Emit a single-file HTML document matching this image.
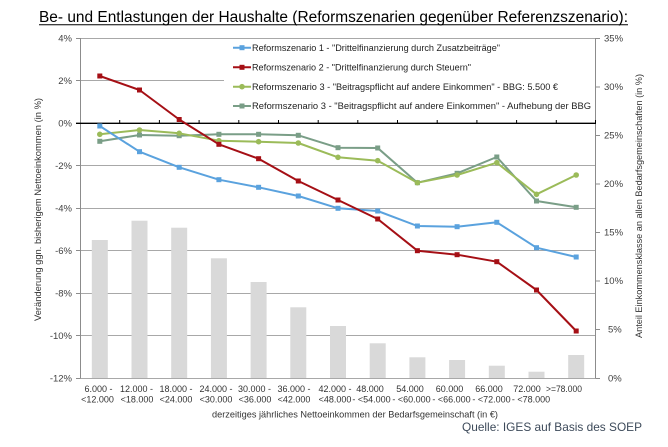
<!DOCTYPE html>
<html><head><meta charset="utf-8"><style>
html,body{margin:0;padding:0;background:#fff;}
svg{display:block;}
text{font-family:"Liberation Sans",Arial,sans-serif;}
</style></head><body>
<svg width="668" height="447" viewBox="0 0 668 447" xmlns="http://www.w3.org/2000/svg">
<rect width="668" height="447" fill="#fff"/>
<!-- Title -->
<text x="39" y="22" font-size="15.3" fill="#000" textLength="589" lengthAdjust="spacingAndGlyphs">Be- und Entlastungen der Haushalte (Reformszenarien gegenüber Referenzszenario):</text>
<line x1="39" y1="24.8" x2="628" y2="24.8" stroke="#000" stroke-width="1"/>

<!-- gridlines -->
<g stroke="#a8a8a8" stroke-width="1">
<line x1="80" y1="38.5" x2="596" y2="38.5"/>
<line x1="80" y1="80.5" x2="596" y2="80.5"/>
<line x1="80" y1="165.5" x2="596" y2="165.5"/>
<line x1="80" y1="208.5" x2="596" y2="208.5"/>
<line x1="80" y1="250.5" x2="596" y2="250.5"/>
<line x1="80" y1="293.5" x2="596" y2="293.5"/>
<line x1="80" y1="335.5" x2="596" y2="335.5"/>
<line x1="80" y1="378.5" x2="596" y2="378.5"/>
</g>
<!-- bars -->
<g fill="#d9d9d9">
<rect x="91.8" y="240" width="16" height="138"/>
<rect x="131.5" y="220.7" width="16" height="157.3"/>
<rect x="171.2" y="227.7" width="16" height="150.3"/>
<rect x="210.9" y="258.3" width="16" height="119.7"/>
<rect x="250.6" y="282" width="16" height="96"/>
<rect x="290.3" y="307.3" width="16" height="70.7"/>
<rect x="330" y="326" width="16" height="52"/>
<rect x="369.7" y="343.3" width="16" height="34.7"/>
<rect x="409.4" y="357.3" width="16" height="20.7"/>
<rect x="449.1" y="360" width="16" height="18"/>
<rect x="488.8" y="365.7" width="16" height="12.3"/>
<rect x="528.5" y="371.7" width="16" height="6.3"/>
<rect x="568.2" y="355" width="16" height="23"/>
</g>
<!-- axes -->
<g stroke="#8c8c8c" stroke-width="1">
<line x1="80.5" y1="38" x2="80.5" y2="378.5"/>
<line x1="595.5" y1="38" x2="595.5" y2="378.5"/>
<line x1="76" y1="38.5" x2="80" y2="38.5"/>
<line x1="76" y1="80.5" x2="80" y2="80.5"/>
<line x1="76" y1="165.5" x2="80" y2="165.5"/>
<line x1="76" y1="208.5" x2="80" y2="208.5"/>
<line x1="76" y1="250.5" x2="80" y2="250.5"/>
<line x1="76" y1="293.5" x2="80" y2="293.5"/>
<line x1="76" y1="335.5" x2="80" y2="335.5"/>
<line x1="76" y1="378.5" x2="80" y2="378.5"/>
<line x1="596" y1="38.5" x2="600" y2="38.5"/>
<line x1="596" y1="87" x2="600" y2="87"/>
<line x1="596" y1="135.5" x2="600" y2="135.5"/>
<line x1="596" y1="184" x2="600" y2="184"/>
<line x1="596" y1="232.5" x2="600" y2="232.5"/>
<line x1="596" y1="281" x2="600" y2="281"/>
<line x1="596" y1="329.5" x2="600" y2="329.5"/>
<line x1="596" y1="378.5" x2="600" y2="378.5"/>
</g>
<!-- 0% axis -->
<line x1="76" y1="123.3" x2="596" y2="123.3" stroke="#000" stroke-width="1.4"/>
<g stroke="#000" stroke-width="1">
<line x1="119.7" y1="120" x2="119.7" y2="123"/>
<line x1="159.4" y1="120" x2="159.4" y2="123"/>
<line x1="199.1" y1="120" x2="199.1" y2="123"/>
<line x1="238.8" y1="120" x2="238.8" y2="123"/>
<line x1="278.5" y1="120" x2="278.5" y2="123"/>
<line x1="318.2" y1="120" x2="318.2" y2="123"/>
<line x1="357.8" y1="120" x2="357.8" y2="123"/>
<line x1="397.5" y1="120" x2="397.5" y2="123"/>
<line x1="437.2" y1="120" x2="437.2" y2="123"/>
<line x1="476.9" y1="120" x2="476.9" y2="123"/>
<line x1="516.6" y1="120" x2="516.6" y2="123"/>
<line x1="556.3" y1="120" x2="556.3" y2="123"/>
<line x1="595.5" y1="120" x2="595.5" y2="123"/>
</g>

<!-- Legend box (covers gridline) -->
<rect x="224" y="41" width="371" height="77" fill="#fff"/>

<!-- series -->
<g fill="none" stroke-width="2" stroke-linejoin="round">
<polyline stroke="#7a9e87" points="99.8,141.3 139.5,135 179.2,135.7 218.9,134.3 258.6,134.3 298.3,135.3 338,147.7 377.7,148 417.4,182.7 457.1,173.3 496.8,157 536.5,201 576.2,207.3"/>
<polyline stroke="#9bbb59" points="99.8,134.3 139.5,130 179.2,133.3 218.9,140.7 258.6,141.7 298.3,143 338,157.3 377.7,160.7 417.4,182.7 457.1,175 496.8,162.7 536.5,194.3 576.2,175"/>
<polyline stroke="#5aa2de" points="99.8,126 139.5,151.7 179.2,167.3 218.9,179.7 258.6,187.3 298.3,196 338,208.3 377.7,211 417.4,226 457.1,226.7 496.8,222.3 536.5,247.7 576.2,257"/>
<polyline stroke="#a50f15" points="99.8,76 139.5,90 179.2,119.5 218.9,144.3 258.6,158.7 298.3,181 338,200 377.7,219 417.4,250.7 457.1,254.7 496.8,261.7 536.5,290 576.2,331"/>
</g>
<!-- markers -->
<g fill="#7a9e87">
<rect x="97.3" y="138.8" width="5" height="5"/><rect x="137" y="132.5" width="5" height="5"/><rect x="176.7" y="133.2" width="5" height="5"/><rect x="216.4" y="131.8" width="5" height="5"/><rect x="256.1" y="131.8" width="5" height="5"/><rect x="295.8" y="132.8" width="5" height="5"/><rect x="335.5" y="145.2" width="5" height="5"/><rect x="375.2" y="145.5" width="5" height="5"/><rect x="414.9" y="180.2" width="5" height="5"/><rect x="454.6" y="170.8" width="5" height="5"/><rect x="494.3" y="154.5" width="5" height="5"/><rect x="534" y="198.5" width="5" height="5"/><rect x="573.7" y="204.8" width="5" height="5"/>
</g>
<g fill="#9bbb59">
<circle cx="99.8" cy="134.3" r="2.8"/><circle cx="139.5" cy="130" r="2.8"/><circle cx="179.2" cy="133.3" r="2.8"/><circle cx="218.9" cy="140.7" r="2.8"/><circle cx="258.6" cy="141.7" r="2.8"/><circle cx="298.3" cy="143" r="2.8"/><circle cx="338" cy="157.3" r="2.8"/><circle cx="377.7" cy="160.7" r="2.8"/><circle cx="417.4" cy="182.7" r="2.8"/><circle cx="457.1" cy="175" r="2.8"/><circle cx="496.8" cy="162.7" r="2.8"/><circle cx="536.5" cy="194.3" r="2.8"/><circle cx="576.2" cy="175" r="2.8"/>
</g>
<g fill="#5aa2de">
<rect x="97.3" y="123.5" width="5" height="5"/><rect x="137" y="149.2" width="5" height="5"/><rect x="176.7" y="164.8" width="5" height="5"/><rect x="216.4" y="177.2" width="5" height="5"/><rect x="256.1" y="184.8" width="5" height="5"/><rect x="295.8" y="193.5" width="5" height="5"/><rect x="335.5" y="205.8" width="5" height="5"/><rect x="375.2" y="208.5" width="5" height="5"/><rect x="414.9" y="223.5" width="5" height="5"/><rect x="454.6" y="224.2" width="5" height="5"/><rect x="494.3" y="219.8" width="5" height="5"/><rect x="534" y="245.2" width="5" height="5"/><rect x="573.7" y="254.5" width="5" height="5"/>
</g>
<g fill="#a50f15">
<rect x="97.3" y="73.5" width="5" height="5"/><rect x="137" y="87.5" width="5" height="5"/><rect x="176.7" y="117" width="5" height="5"/><rect x="216.4" y="141.8" width="5" height="5"/><rect x="256.1" y="156.2" width="5" height="5"/><rect x="295.8" y="178.5" width="5" height="5"/><rect x="335.5" y="197.5" width="5" height="5"/><rect x="375.2" y="216.5" width="5" height="5"/><rect x="414.9" y="248.2" width="5" height="5"/><rect x="454.6" y="252.2" width="5" height="5"/><rect x="494.3" y="259.2" width="5" height="5"/><rect x="534" y="287.5" width="5" height="5"/><rect x="573.7" y="328.5" width="5" height="5"/>
</g>

<!-- Legend -->
<g stroke-width="2">
<line x1="233" y1="47.7" x2="251" y2="47.7" stroke="#5aa2de"/>
<line x1="233" y1="67.3" x2="251" y2="67.3" stroke="#a50f15"/>
<line x1="233" y1="86.7" x2="251" y2="86.7" stroke="#9bbb59"/>
<line x1="233" y1="106" x2="251" y2="106" stroke="#7a9e87"/>
</g>
<rect x="239.5" y="45.2" width="5" height="5" fill="#5aa2de"/>
<rect x="239.5" y="64.8" width="5" height="5" fill="#a50f15"/>
<circle cx="242" cy="86.7" r="2.8" fill="#9bbb59"/>
<rect x="239.5" y="103.5" width="5" height="5" fill="#7a9e87"/>
<g font-size="9" fill="#222">
<text x="252" y="50.8" textLength="248" lengthAdjust="spacingAndGlyphs">Reformszenario 1 - "Drittelfinanzierung durch Zusatzbeiträge"</text>
<text x="252" y="70.4" textLength="219" lengthAdjust="spacingAndGlyphs">Reformszenario 2 - "Drittelfinanzierung durch Steuern"</text>
<text x="252" y="89.8" textLength="306" lengthAdjust="spacingAndGlyphs">Reformszenario 3 - "Beitragspflicht auf andere Einkommen" - BBG: 5.500 €</text>
<text x="252" y="109.1" textLength="339" lengthAdjust="spacingAndGlyphs">Reformszenario 3 - "Beitragspflicht auf andere Einkommen" - Aufhebung der BBG</text>
</g>

<!-- left axis labels -->
<g font-size="9.5" fill="#404040" text-anchor="end">
<text x="72" y="41.5">4%</text>
<text x="72" y="84">2%</text>
<text x="72" y="126.5">0%</text>
<text x="72" y="169">-2%</text>
<text x="72" y="211.5">-4%</text>
<text x="72" y="254">-6%</text>
<text x="72" y="296.5">-8%</text>
<text x="72" y="339">-10%</text>
<text x="72" y="381.5">-12%</text>
</g>
<!-- right axis labels -->
<g font-size="9.5" fill="#404040">
<text x="604" y="41.5">35%</text>
<text x="604" y="90">30%</text>
<text x="604" y="138.5">25%</text>
<text x="604" y="187">20%</text>
<text x="604" y="235.5">15%</text>
<text x="604" y="284">10%</text>
<text x="608" y="332.5">5%</text>
<text x="608" y="381.5">0%</text>
</g>

<!-- axis titles -->
<text transform="translate(41,209.5) rotate(-90)" text-anchor="middle" font-size="9.5" fill="#333" textLength="223" lengthAdjust="spacingAndGlyphs">Veränderung ggn. bisherigem Nettoeinkommen (in %)</text>
<text transform="translate(642,206) rotate(-90)" text-anchor="middle" font-size="9.5" fill="#333" textLength="264" lengthAdjust="spacingAndGlyphs">Anteil Einkommensklasse an allen Bedarfsgemeinschaften (in %)</text>

<!-- category labels -->
<g font-size="9" fill="#333" text-anchor="middle">
<text x="98.5" y="392">6.000 -</text><text x="97.5" y="402.5">&lt;12.000</text>
<text x="136.5" y="392">12.000 -</text><text x="137" y="402.5">&lt;18.000</text>
<text x="176" y="392">18.000 -</text><text x="176" y="402.5">&lt;24.000</text>
<text x="216" y="392">24.000 -</text><text x="216" y="402.5">&lt;30.000</text>
<text x="254.5" y="392">30.000 -</text><text x="255" y="402.5">&lt;36.000</text>
<text x="294" y="392">36.000 -</text><text x="294" y="402.5">&lt;42.000</text>
<text x="335" y="392">42.000 -</text><text x="335" y="402.5">&lt;48.000</text>
<text x="370" y="392">48.000</text><text x="371.5" y="402.5">- &lt;54.000</text>
<text x="410" y="392">54.000</text><text x="411.5" y="402.5">- &lt;60.000</text>
<text x="449.5" y="392">60.000</text><text x="451.5" y="402.5">- &lt;66.000</text>
<text x="489" y="392">66.000</text><text x="491.5" y="402.5">- &lt;72.000</text>
<text x="527" y="392">72.000</text><text x="531" y="402.5">- &lt;78.000</text>
<text x="564" y="392" textLength="36" lengthAdjust="spacingAndGlyphs">&gt;=78.000</text>
</g>
<text x="212" y="417.5" font-size="9.5" fill="#333" textLength="286" lengthAdjust="spacingAndGlyphs">derzeitiges jährliches Nettoeinkommen der Bedarfsgemeinschaft (in €)</text>

<!-- source -->
<text x="462" y="431" font-size="12" fill="#3d4a5a" textLength="180" lengthAdjust="spacingAndGlyphs">Quelle: IGES auf Basis des SOEP</text>
</svg>
</body></html>
